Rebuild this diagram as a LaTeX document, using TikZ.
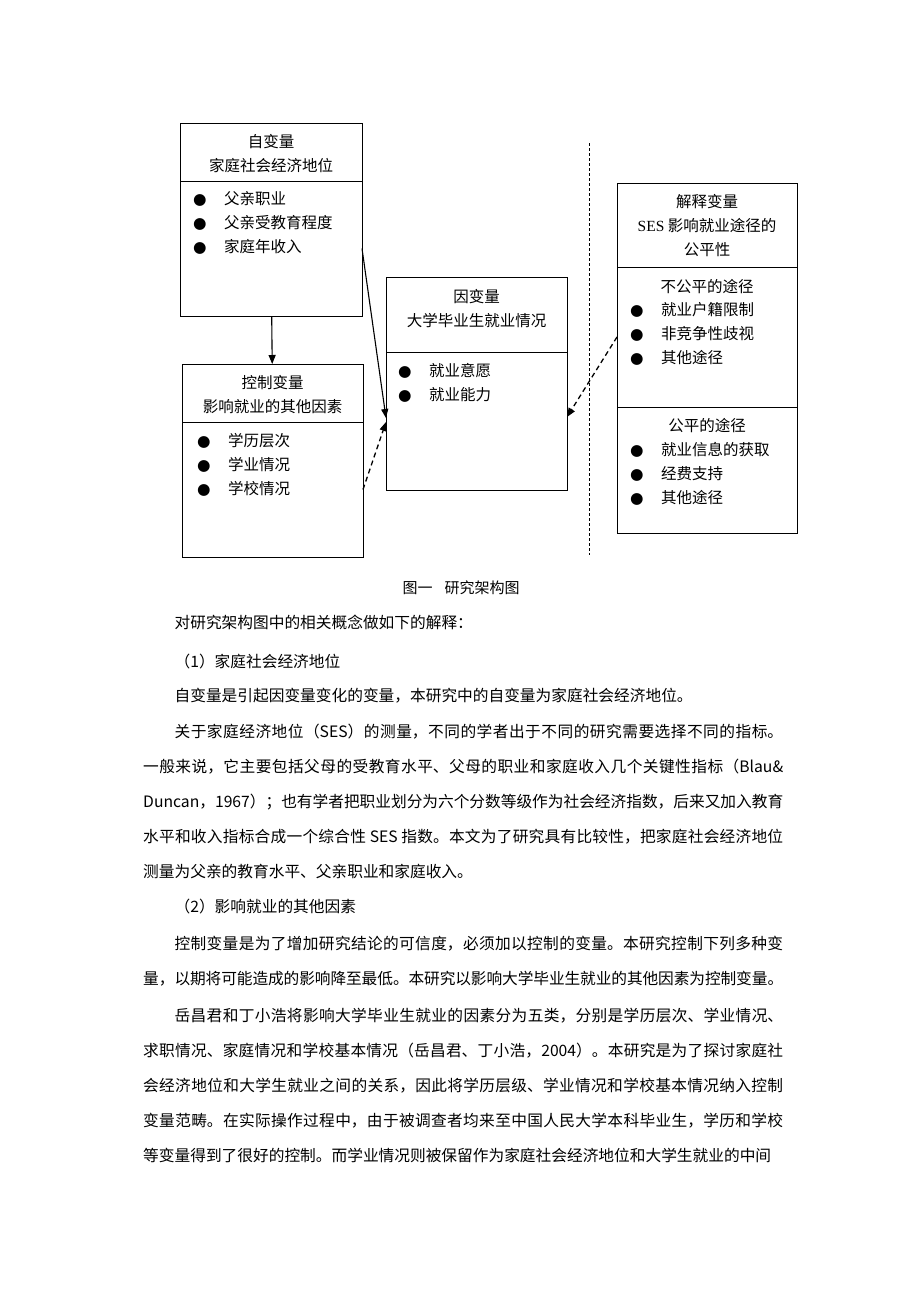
\documentclass[tikz,border=0pt]{standalone}
\usepackage{fontspec}
\setmainfont{Noto Sans CJK SC}
\newfontfamily\symfont{DejaVu Sans}
\newfontfamily\romanfont{Liberation Serif}
\usetikzlibrary{positioning, arrows.meta}
\XeTeXlinebreaklocale "zh"
\XeTeXlinebreakskip=0pt plus 2pt minus 0.4pt
\tolerance=10000
\hbadness=10000
\newcommand{\boxfont}{\fontsize{15.5}{24}\selectfont}
\newcommand{\bodyfont}{\fontsize{15.7}{35}\selectfont}
\newcommand{\itemdot}{\makebox[31pt][l]{\symfont ●}}

\begin{document}
\begin{tikzpicture}[
        x=1pt, y=-1pt,
        font=\boxfont,
        part/.style={draw, line width=0.9pt, inner sep=0pt, outer sep=0pt},
        title/.style={align=center, inner sep=0pt},
        list/.style={align=left, inner sep=0pt, anchor=north west},
        arrow/.style={-{Triangle[length=9pt,width=7pt]}, line width=1.1pt},
        dasharrow/.style={arrow, line width=1.3pt, dash pattern=on 5pt off 3.5pt},
        para/.style={anchor=base west, inner sep=0pt, text width=640pt, align=justify, font=\bodyfont}
    ]
    \useasboundingbox (0,0) rectangle (920,1302);

    % Independent variable
    \node[part, minimum width=182pt, minimum height=58pt] (ivhead) at (271,152) {};
    \node[part, minimum width=182pt, minimum height=135pt, below=0pt of ivhead] (ivbody) {};
    \node[title] (ivtitle) at (271,154) {自变量\\家庭社会经济地位};
    \node[list] (ivlist) at (193,191.5) {\itemdot 父亲职业\\\itemdot 父亲受教育程度\\\itemdot 家庭年收入};

    % Control variable
    \node[part, minimum width=181pt, minimum height=58pt] (cvhead) at (272.5,393) {};
    \node[part, minimum width=181pt, minimum height=135pt, below=0pt of cvhead] (cvbody) {};
    \node[title] (cvtitle) at (272.5,395) {控制变量\\影响就业的其他因素};
    \node[list] (cvlist) at (197,433.5) {\itemdot 学历层次\\\itemdot 学业情况\\\itemdot 学校情况};

    % Dependent variable
    \node[part, minimum width=181pt, minimum height=75pt] (dvhead) at (476.5,314.5) {};
    \node[part, minimum width=181pt, minimum height=138pt, below=0pt of dvhead] (dvbody) {};
    \node[title] (dvtitle) at (476.5,309) {因变量\\大学毕业生就业情况};
    \node[list] (dvlist) at (398,363.5) {\itemdot 就业意愿\\\itemdot 就业能力};

    % Explanatory variable
    \node[part, minimum width=180pt, minimum height=84pt] (exhead) at (707,225) {};
    \node[part, minimum width=180pt, minimum height=140pt, below=0pt of exhead] (exmid) {};
    \node[part, minimum width=180pt, minimum height=126pt, below=0pt of exmid] (exlow) {};
    \node[title] (extitle) at (707,226) {解释变量\\{\romanfont SES} 影响就业途径的\\公平性};
    \node[title, anchor=base] (unfair) at (707,292) {不公平的途径};
    \node[list] (unfairlist) at (630,302.5) {\itemdot 就业户籍限制\\\itemdot 非竞争性歧视\\\itemdot 其他途径};
    \node[title, anchor=base] (fair) at (707,431) {公平的途径};
    \node[list] (fairlist) at (630,442.5) {\itemdot 就业信息的获取\\\itemdot 经费支持\\\itemdot 其他途径};

    % Arrows
    \draw[arrow] (ivbody) -- (cvhead);
    \draw[arrow] (ivbody.east) -- ([yshift=3pt]dvbody.west);
    \draw[dasharrow] (cvbody.east) -- ([yshift=-1pt]dvbody.west);
    \draw[dasharrow] (exmid.west) -- ([yshift=4pt]dvbody.east);
    \draw[line width=0.8pt, dash pattern=on 3pt off 2pt] (589,143) -- (589,555);

    % Caption and text
    \node[anchor=base, inner sep=0pt, font=\fontsize{15}{18}\selectfont] (caption) at (461,593) {图一\hspace{0.8em}研究架构图};
    \node[para] (p0) at (143,628) {\hspace*{2em}对研究架构图中的相关概念做如下的解释：};
    \node[para] (p1) at (143,667) {\hspace*{2em}（1）家庭社会经济地位};
    \node[para] (p2) at (143,701) {\hspace*{2em}自变量是引起因变量变化的变量，本研究中的自变量为家庭社会经济地位。};
    \node[para] (p3) at (143,737) {\hspace*{2em}关于家庭经济地位（SES）的测量，不同的学者出于不同的研究需要选择不同的指标。\linebreak
一般来说，它主要包括父母的受教育水平、父母的职业和家庭收入几个关键性指标（Blau\&\linebreak
Duncan，1967）；也有学者把职业划分为六个分数等级作为社会经济指数，后来又加入教育\linebreak
水平和收入指标合成一个综合性 SES 指数。本文为了研究具有比较性，把家庭社会经济地位\linebreak
测量为父亲的教育水平、父亲职业和家庭收入。};
    \node[para] (p4) at (143,912) {\hspace*{2em}（2）影响就业的其他因素};
    \node[para] (p5) at (143,949) {\parfillskip=0pt \hspace*{2em}控制变量是为了增加研究结论的可信度，必须加以控制的变量。本研究控制下列多种变\linebreak
量，以期将可能造成的影响降至最低。本研究以影响大学毕业生就业的其他因素为控制变量。};
    \node[para] (p6) at (143,1021) {\parfillskip=0pt \hspace*{2em}岳昌君和丁小浩将影响大学毕业生就业的因素分为五类，分别是学历层次、学业情况、\linebreak
求职情况、家庭情况和学校基本情况（岳昌君、丁小浩，2004）。本研究是为了探讨家庭社\linebreak
会经济地位和大学生就业之间的关系，因此将学历层级、学业情况和学校基本情况纳入控制\linebreak
变量范畴。在实际操作过程中，由于被调查者均来至中国人民大学本科毕业生，学历和学校\linebreak
等变量得到了很好的控制。而学业情况则被保留作为家庭社会经济地位和大学生就业的中间};

\end{tikzpicture}
\end{document}
